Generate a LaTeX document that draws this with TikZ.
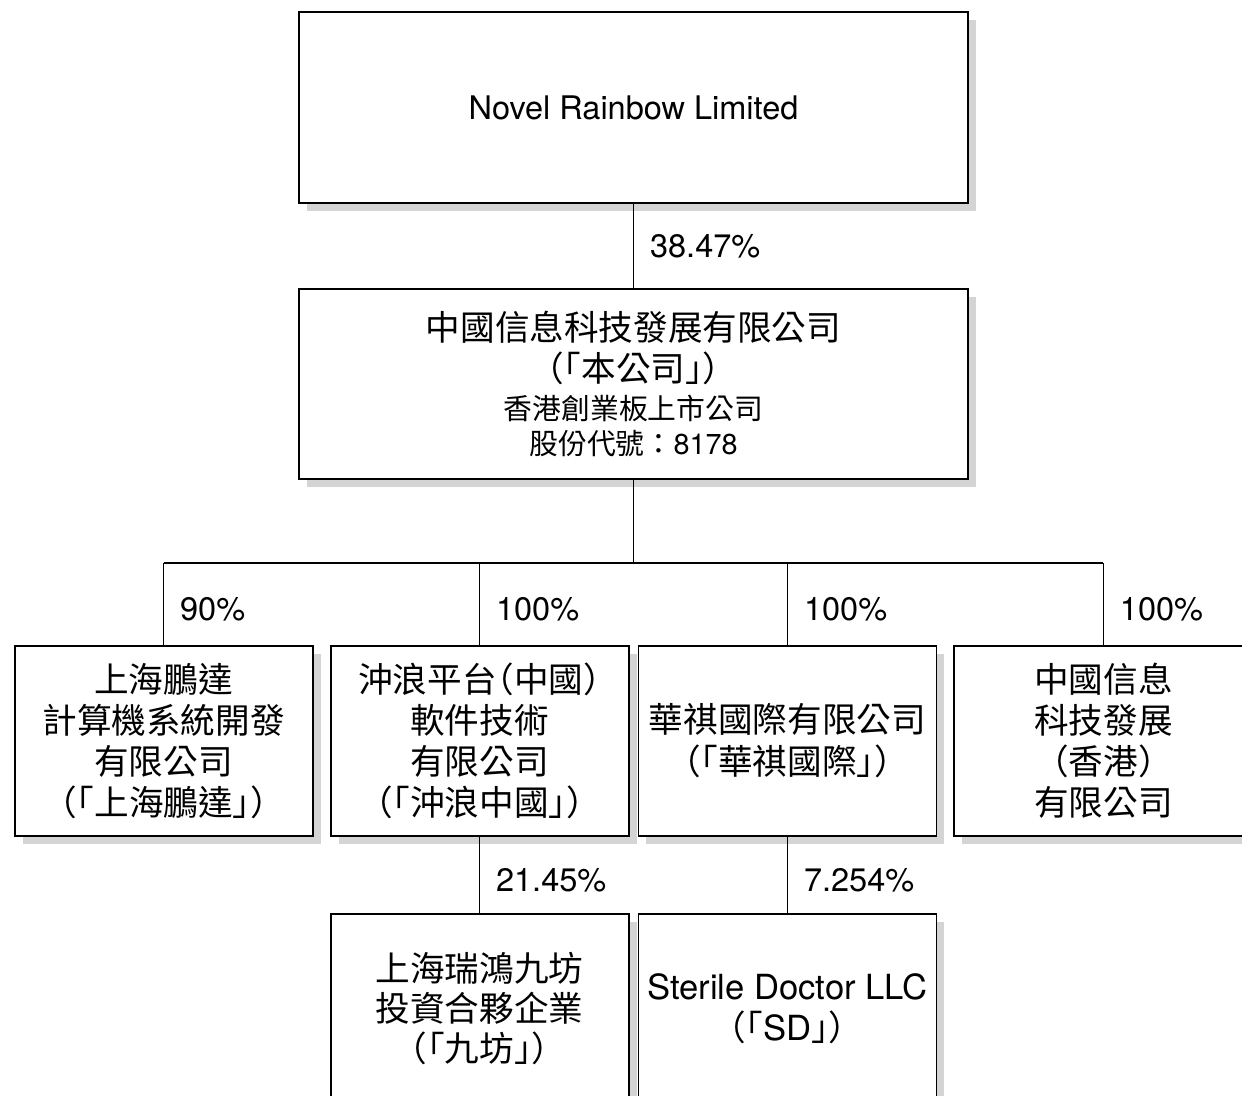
\documentclass[tikz,border=0pt]{standalone}
\usepackage{fontspec}
\setmainfont{TeX Gyre Heros}
\newfontfamily\cjk[CharacterWidth=AlternateHalf]{Noto Sans CJK TC}
\newfontfamily\cjkfull{Noto Sans CJK TC}
\usetikzlibrary{positioning,shadows}

\begin{document}
\begin{tikzpicture}[node distance=1cm]
          \tikzset{
              mynode/.style={rectangle, draw=black, fill=white, line width=1.1pt, minimum width=5.96cm, minimum height=3.8cm, inner sep=0pt, align=center, font=\cjk\fontsize{19.7}{23.3}\selectfont, drop shadow={shadow xshift=0.16cm, shadow yshift=-0.16cm, opacity=1, fill=black!17}},
              myline/.style={line width=0.8pt},
              mylabel/.style={font=\fontsize{18.5}{22}\selectfont, right=0.2cm}
          }
          \useasboundingbox (0,0) rectangle (24.84,-21.92);
          \clip (0,0) rectangle (24.84,-21.92);
          \node[mynode, minimum width=13.38cm, minimum height=3.82cm, font=\fontsize{18.5}{22}\selectfont] (novel-rainbow) at (12.67,-2.15) {Novel Rainbow Limited};
          \node[mynode, minimum width=13.38cm, below=1.68cm of novel-rainbow] (company) {中國信息科技發展有限公司\\[0.5pt]
            （「本公司」）\\[-1.7pt]
            {\fontsize{16.4}{19.8}\selectfont 香港創業板上市公司}\\[-3.4pt]
            {\fontsize{16.4}{19.8}\selectfont 股份代號{\cjkfull ：}{\rmfamily 8178}}};
          \node[mynode, below left=3.3cm and 0.08cm of company.south] (chonglang) {沖浪平台（中國）\\軟件技術\\有限公司\\（「沖浪中國」）};
          \node[mynode, below right=3.3cm and 0.08cm of company.south] (huaqi) {華祺國際有限公司\\[0.8pt]（「華祺國際」）};
          \node[mynode, left=0.32cm of chonglang] (pengda) {上海鵬達\\計算機系統開發\\有限公司\\（「上海鵬達」）};
          \node[mynode, right=0.32cm of huaqi] (hk-sub) {中國信息\\科技發展\\（香港）\\有限公司};
          \node[mynode, below=1.52cm of chonglang] (jiufang) {上海瑞鴻九坊\\[-0.6pt]投資合夥企業\\[-0.6pt]（「九坊」）};
          \node[mynode, below=1.52cm of huaqi] (sd) {{\rmfamily Sterile Doctor LLC}\\（「{\rmfamily SD}」）};

          \draw[myline] (novel-rainbow.south) -- node[mylabel] {38.47\%} (company.north);
          \draw[myline] (company.south) -- ++(0,-1.66) coordinate (bus);
          \draw[myline] (pengda.north |- bus) -- (hk-sub.north |- bus);
          \draw[myline] (pengda.north) -- node[mylabel, pos=.43] {90\%} (pengda.north |- bus);
          \draw[myline] (chonglang.north) -- node[mylabel, pos=.43] {100\%} (chonglang.north |- bus);
          \draw[myline] (huaqi.north) -- node[mylabel, pos=.43] {100\%} (huaqi.north |- bus);
          \draw[myline] (hk-sub.north) -- node[mylabel, pos=.43] {100\%} (hk-sub.north |- bus);
          \draw[myline] (chonglang.south) -- node[mylabel, pos=.57] {21.45\%} (jiufang.north);
          \draw[myline] (huaqi.south) -- node[mylabel, pos=.57] {7.254\%} (sd.north);
        \end{tikzpicture}
\end{document}
